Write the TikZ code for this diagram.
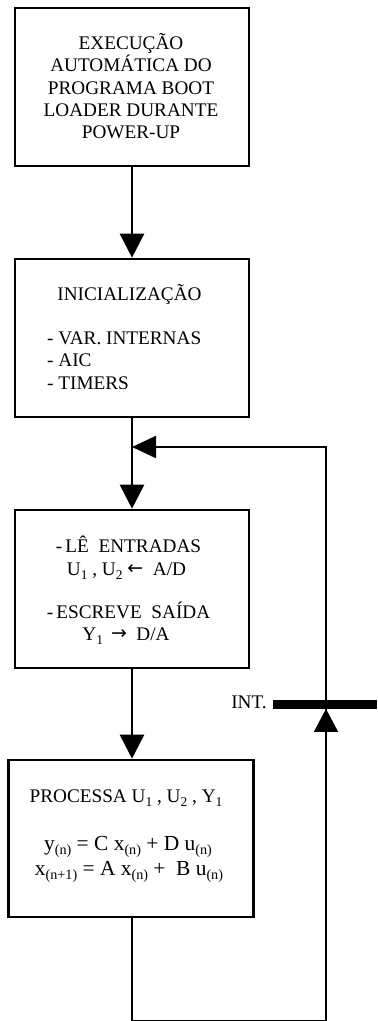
\documentclass[tikz,border=0pt]{standalone}
\usepackage{fontspec}
\setmainfont{Liberation Serif}
\newfontfamily\symfont{DejaVu Sans}
\usetikzlibrary{arrows.meta}

\tikzset{
  stepbox/.style={draw, line width=2.6bp, minimum width=234bp, minimum height=158bp, inner sep=0pt},
  txt/.style={anchor=base, inner sep=0pt, font=\fontsize{19.3}{22}\selectfont},
  txtl/.style={anchor=base west, inner sep=0pt, font=\fontsize{19.3}{22}\selectfont},
  eqn/.style={anchor=base, inner sep=0pt, font=\fontsize{21.5}{24}\selectfont},
  flow/.style={line width=2.6bp, -{Triangle[length=24bp,width=24bp]}},
  loopline/.style={line width=2bp},
}
% subscripts in the box texts
\newcommand{\sbs}[1]{\raisebox{-4.5bp}{\fontsize{13.5}{13.5}\selectfont #1}}
\newcommand{\esb}[1]{\raisebox{-4bp}{\fontsize{14.2}{14.2}\selectfont #1}}
\newcommand{\arrl}{\raisebox{0.5bp}{\fontsize{19}{19}\selectfont\symfont ←}}
\newcommand{\arrr}{\raisebox{0.5bp}{\fontsize{19}{19}\selectfont\symfont →}}

\begin{document}
\begin{tikzpicture}[x=1bp,y=-1bp]
\useasboundingbox (0,0) rectangle (377,1021);

% process boxes
\node[stepbox] (boot) at (132,87) {};
\node[stepbox] (init) at (132,338) {};
\node[stepbox] (io)   at (132,589) {};
\node[stepbox, minimum width=245bp, minimum height=157bp] (proc) at (131,838.5) {};

% box texts
\node[txt] (t1a) at (131,49) {EXECUÇÃO};
\node[txt] (t1b) at (131,71.5) {AUTOMÁTICA DO};
\node[txt] (t1c) at (131,94) {PROGRAMA BOOT};
\node[txt] (t1d) at (131,116) {LOADER DURANTE};
\node[txt] (t1e) at (131,138.5) {POWER-UP};

\node[txt]  (t2a) at (129.5,300) {INICIALIZAÇÃO};
\node[txtl] (t2b) at (47,344) {- VAR. INTERNAS};
\node[txtl] (t2c) at (47,366.5) {- AIC};
\node[txtl] (t2d) at (47,389) {- TIMERS};

\node[txt] (t3a) at (128.5,552) {-\,LÊ\ \ ENTRADAS};
\node[txt] (t3b) at (126.5,575) {U\sbs{1} , U\sbs{2} \arrl\ \ A/D};
\node[txt] (t3c) at (128.5,618) {-\,ESCREVE\ \ SAÍDA};
\node[txt] (t3d) at (126,640) {Y\sbs{1} \,\arrr\ \ D/A};

\node[txt] (t4a) at (126,802) {PROCESSA U\sbs{1} , U\sbs{2} , Y\sbs{1}};
\node[eqn] (t4b) at (128,850) {y\esb{(n)} = C x\esb{(n)} + D u\esb{(n)}};
\node[eqn] (t4c) at (129,875) {x\esb{(n+1)} = A x\esb{(n)} +\ \ B u\esb{(n)}};

% interrupt bar
\node[fill=black, inner sep=0pt, minimum width=104bp, minimum height=8.5bp] (intbar) at (325,704.5) {};
\node[txt] (intlbl) at (249,708.5) {INT.};

% loop points
\coordinate (join) at (132,447);
\coordinate (bl) at (132,1020.5);
\coordinate (br) at (326,1020.5);
\coordinate (tr) at (326,447);

% main flow
\draw[flow] (boot.south) -- (init.north);
\draw[line width=2.6bp] (init.south) -- (join);
\draw[flow] (join) -- (io.north);
\draw[flow] (io.south) -- (proc.north -| join);

% return loop through the interrupt
\draw[loopline] (proc.south -| bl) -- (bl) -- (br) -- ([xshift=1bp]intbar.south);
\draw[-{Triangle[length=23bp,width=24bp]}, line width=2bp] (326,740) -- ([xshift=1bp]intbar.south);
\draw[loopline, -{Triangle[length=24bp,width=22bp]}] ([xshift=1bp]intbar.north) -- (tr) -- (join);
\end{tikzpicture}
\end{document}
